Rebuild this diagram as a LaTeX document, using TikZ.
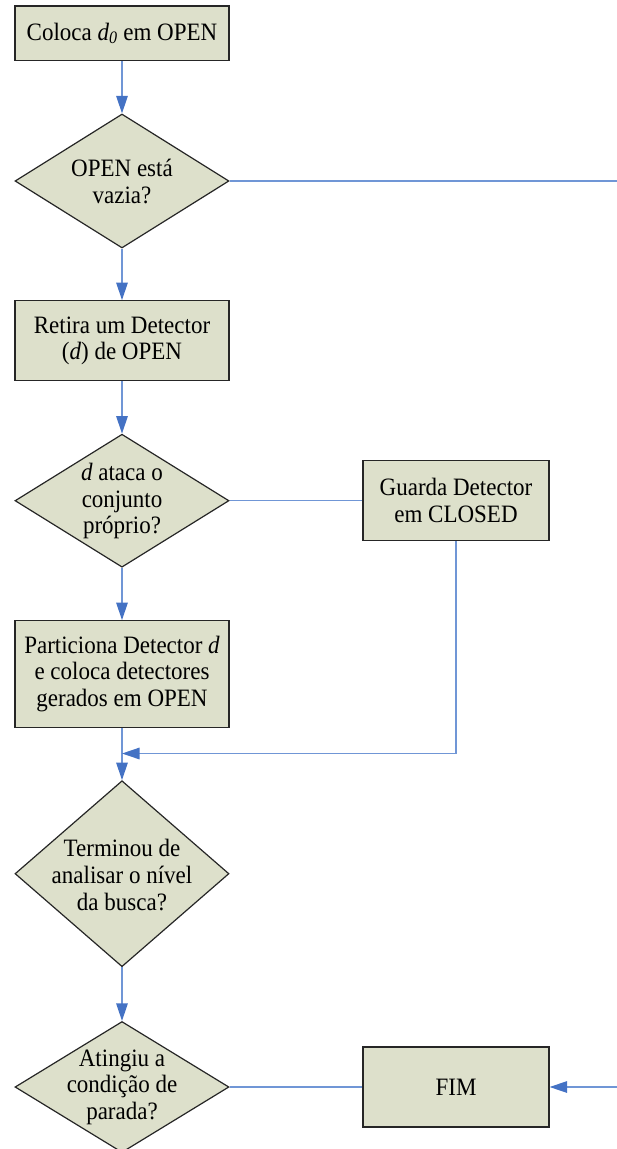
\documentclass[tikz,border=0pt]{standalone}
\usepackage{fontspec}
\setmainfont{Liberation Serif}[FakeStretch=0.92]
\usetikzlibrary{shapes.geometric,arrows.meta}

\definecolor{boxfill}{RGB}{221,224,203}
\definecolor{boxline}{RGB}{38,38,38}
\definecolor{linkline}{RGB}{112,150,214}
\definecolor{tipblue}{RGB}{68,114,196}

\tikzset{
  stepbox/.style={draw=boxline, fill=boxfill, line width=1.2pt, inner sep=0pt,
    minimum width=214pt, align=center, font=\fontsize{25}{26.6}\selectfont},
  sidebox/.style={stepbox, minimum width=186pt, minimum height=80pt},
  decision/.style={shape=diamond, draw=boxline, fill=boxfill, line width=1.2pt,
    inner sep=0pt, minimum width=214pt},
  txt/.style={align=center, inner sep=0pt, font=\fontsize{25}{26.6}\selectfont},
  link/.style={draw=linkline, line width=1.4pt},
  arr/.style={link, -{Triangle[length=17.5pt, width=11.5pt, color=tipblue]}}
}

\begin{document}
\begin{tikzpicture}[x=1pt, y=-1pt]
  \useasboundingbox (0,0) rectangle (617,1149);

  % main column
  \node[stepbox, minimum height=54.7pt] (b1) at (122,33.3) {Coloca {\itshape d\textsubscript{0}} em OPEN};
  \node[decision, minimum height=134pt] (d1) at (122,181) {};
  \node[txt] (d1t) at (122,181.5) {OPEN está\\vazia?};
  \node[stepbox, minimum height=80pt] (b2) at (122,340.7) {Retira um Detector\\({\itshape d}) de OPEN};
  \node[decision, minimum height=133pt] (d2) at (122,500.7) {};
  \node[txt] (d2t) at (122,501) {{\itshape d} ataca o\\conjunto\\próprio?};
  \node[stepbox, minimum height=106.6pt] (b3) at (122,674) {Particiona Detector {\itshape d}\\e coloca detectores\\gerados em OPEN};
  \node[decision, minimum height=186pt] (d3) at (122,873.7) {};
  \node[txt] (d3t) at (122,875) {Terminou de\\analisar o nível\\da busca?};
  \node[decision, minimum height=131pt] (d4) at (122,1087) {};
  \node[txt] (d4t) at (122,1087) {Atingiu a\\condição de\\parada?};

  % side column
  \node[sidebox] (g) at (456,500.7) {Guarda Detector\\em CLOSED};
  \node[sidebox] (fim) at (456,1087) {FIM};

  % free ends and junction
  \coordinate (e1) at (617,181);
  \coordinate (e2) at (617,1087);
  \coordinate (j) at (122,753.5);

  % connectors
  \draw[arr] (b1) -- (d1);
  \draw[arr] (d1) -- (b2);
  \draw[arr] (b2) -- (d2);
  \draw[arr] (d2) -- (b3);
  \draw[arr] (b3) -- (d3);
  \draw[arr] (d3) -- (d4);
  \draw[link] (d1.east) -- (e1);
  \draw[link] (d2.east) -- (g.west);
  \draw[arr] (g.south) |- (j);
  \draw[link] (d4.east) -- (fim.west);
  \draw[arr] (e2) -- (fim.east);
\end{tikzpicture}
\end{document}
